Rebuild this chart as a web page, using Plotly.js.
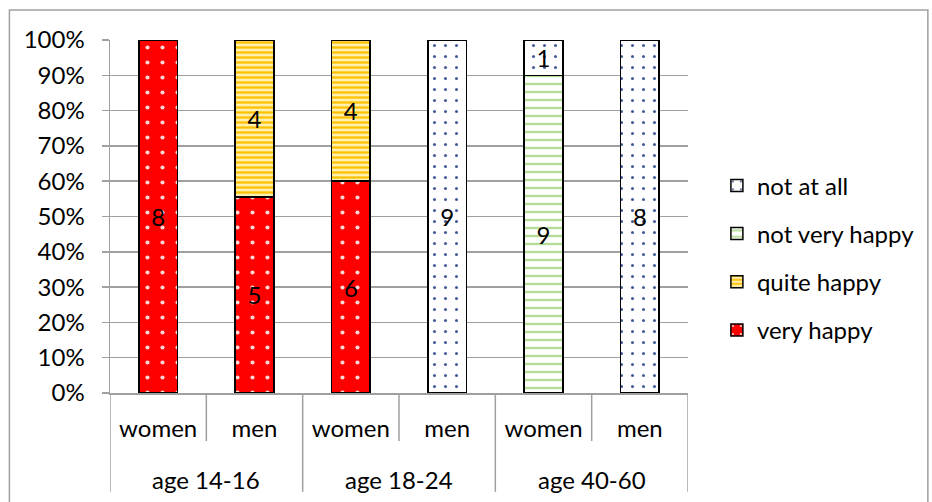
<!DOCTYPE html>
<html>
<head>
<meta charset="utf-8">
<script src="https://cdn.plot.ly/plotly-3.0.1.min.js"></script>
<style>html,body{margin:0;padding:0;background:#fff;}#chart{width:932px;height:502px;}</style>
</head>
<body>
<div id="chart"></div>
<script>
// ---- data ----
var groups = ["age 14-16", "age 18-24", "age 40-60"];
var genders = ["women", "men", "women", "men", "women", "men"];
var seriesNames = ["very happy", "quite happy", "not very happy", "not at all"];
var veryHappy    = [8, 5, 6, null, null, null];
var quiteHappy   = [null, 4, 4, null, null, null];
var notVeryHappy = [null, null, null, null, 9, null];
var notAtAll     = [null, null, null, 9, 1, 8];
var yTickLabels = ["0%","10%","20%","30%","40%","50%","60%","70%","80%","90%","100%"];

// ---- chart ----
var xs = genders.map(function(_, i){ return i; });
var FONT = "Lato, 'Liberation Sans', sans-serif";
var FS = 24;
var GRAY = "#a0a0a0";

function mk(name, vals, pattern, rank){
  return {
    type: "bar", name: name, x: xs, y: vals,
    text: vals.map(function(v){ return v == null ? "" : String(v); }),
    textposition: "inside", insidetextanchor: "middle", textangle: 0,
    textfont: {family: FONT, size: FS, color: "#000"},
    hoverinfo: "skip",
    legendgroup: name, legendrank: rank,
    width: 0.4,
    marker: {color: pattern.bgcolor, line: {color: "#000", width: 1.5}, pattern: pattern}
  };
}

var traces = [
  mk(seriesNames[0], veryHappy,    {shape: ".", bgcolor: "#ff0000", fgcolor: "#ffd6d6", fgopacity: 1, size: 15, solidity: 0.06, fillmode: "replace"}, 4),
  mk(seriesNames[1], quiteHappy,   {shape: "-", bgcolor: "#fff0b0", fgcolor: "#ffc000", fgopacity: 1, size: 5, solidity: 0.45, fillmode: "replace"}, 3),
  mk(seriesNames[2], notVeryHappy, {shape: "-", bgcolor: "#ffffff", fgcolor: "#b5dd98", fgopacity: 1, size: 8, solidity: 0.3, fillmode: "replace"}, 2),
  mk(seriesNames[3], notAtAll,     {shape: ".", bgcolor: "#ffffff", fgcolor: "#3f5c96", fgopacity: 1, size: 11, solidity: 0.06, fillmode: "replace"}, 1)
];

var shapes = [];
// outer chart border
shapes.push({type: "rect", xref: "paper", yref: "paper", x0: -0.174, x1: 1.415, y0: -0.4, y1: 1.085,
  line: {color: GRAY, width: 1.5}, fillcolor: "rgba(0,0,0,0)", layer: "below"});
// category dividers under the axis
[0.5, 2.5, 4.5].forEach(function(x){
  shapes.push({type: "line", xref: "x", yref: "paper", x0: x, x1: x, y0: 0, y1: -0.136, line: {color: GRAY, width: 1.5}});
});
[-0.5, 1.5, 3.5, 5.5].forEach(function(x){
  shapes.push({type: "line", xref: "x", yref: "paper", x0: x, x1: x, y0: 0, y1: -0.28, line: {color: GRAY, width: 1.5}});
});

var annotations = groups.map(function(g, i){
  return {text: g, x: 2 * i + 0.5, xref: "x", y: -0.244, yref: "paper", showarrow: false,
    xanchor: "center", yanchor: "middle", font: {family: FONT, size: FS, color: "#000"}};
});

var layout = {
  width: 932, height: 502,
  margin: {l: 110, r: 242, t: 40, b: 109},
  paper_bgcolor: "#fff", plot_bgcolor: "#fff",
  barmode: "stack", barnorm: "percent",
  font: {family: FONT, size: FS, color: "#000"},
  showlegend: true,
  legend: {x: 1.05, xanchor: "left", y: 0.383, yanchor: "middle",
    traceorder: "grouped", tracegroupgap: 14,
    font: {family: FONT, size: FS, color: "#000"}, itemwidth: 30},
  xaxis: {
    type: "linear", range: [-0.5, 5.5], tickmode: "array", tickvals: xs, ticktext: genders,
    showgrid: false, zeroline: false, showline: true, linecolor: GRAY, linewidth: 1.5,
    ticks: "", ticklabelstandoff: 14, tickfont: {family: FONT, size: FS, color: "#000"}
  },
  yaxis: {
    range: [0, 100], tickmode: "array", tickvals: [0,10,20,30,40,50,60,70,80,90,100], ticktext: yTickLabels,
    showgrid: true, gridcolor: GRAY, gridwidth: 1.5, zeroline: false,
    showline: true, linecolor: GRAY, linewidth: 1.5,
    ticks: "outside", ticklen: 7, tickcolor: GRAY, tickwidth: 1.5,
    ticklabelstandoff: 12, tickfont: {family: FONT, size: FS, color: "#000"}
  },
  shapes: shapes,
  annotations: annotations
};

Plotly.newPlot("chart", traces, layout, {staticPlot: true, displayModeBar: false});
</script>
</body>
</html>
